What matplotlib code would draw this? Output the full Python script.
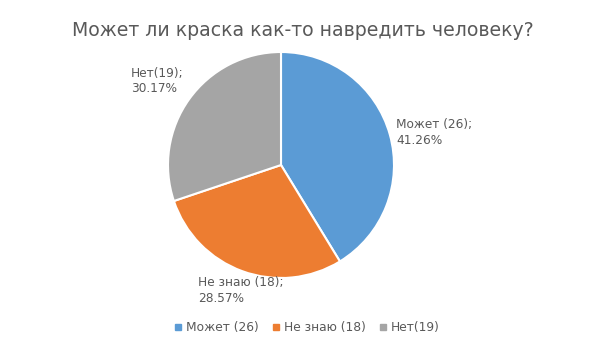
import matplotlib
matplotlib.use("Agg")
import matplotlib.pyplot as plt
from matplotlib.lines import Line2D

plt.rcParams['font.family'] = ['DejaVu Sans']

categories = ["Может (26)", "Не знаю (18)", "Нет(19)"]
values = [26, 18, 19]
label_names = ["Может (26);", "Не знаю (18);", "Нет(19);"]
percents = ["41.26%", "28.57%", "30.17%"]
colors = ["#5B9BD5", "#ED7D31", "#A5A5A5"]
title = "Может ли краска как-то навредить человеку?"

W, H = 605, 340
fig = plt.figure(figsize=(W / 100, H / 100), dpi=100)
fig.patch.set_facecolor("white")

cx, cy, r = 281, 165, 113
ax = fig.add_axes([(cx - r) / W, (H - cy - r) / H, 2 * r / W, 2 * r / H])
ax.pie(values, colors=colors, startangle=90, counterclock=False, radius=1.0,
       wedgeprops=dict(edgecolor="white", linewidth=1.5))
ax.set_xlim(-1, 1)
ax.set_ylim(-1, 1)
ax.set_aspect("equal")
ax.axis("off")

txtc = "#595959"
fig.text(0.5, 1 - 30 / H, title, ha="center", va="center", fontsize=13.6, color=txtc)

label_pos = [(396, 118), (198, 276), (131, 67)]
for (x, y), n, p in zip(label_pos, label_names, percents):
    fig.text(x / W, 1 - y / H, n + "\n" + p, ha="left", va="top",
             fontsize=8.7, color=txtc, linespacing=1.25)

handles = [Line2D([0], [0], marker="s", linestyle="none", markersize=5,
                  markerfacecolor=c, markeredgecolor=c) for c in colors]
fig.legend(handles, categories, loc="center", bbox_to_anchor=(0.5 + 4 / W, 1 - 328 / H),
           ncol=3, frameon=False, fontsize=8.8, labelcolor=txtc,
           handletextpad=0.25, columnspacing=1.0, handlelength=0.8)

fig.savefig("out.png", dpi=100)
